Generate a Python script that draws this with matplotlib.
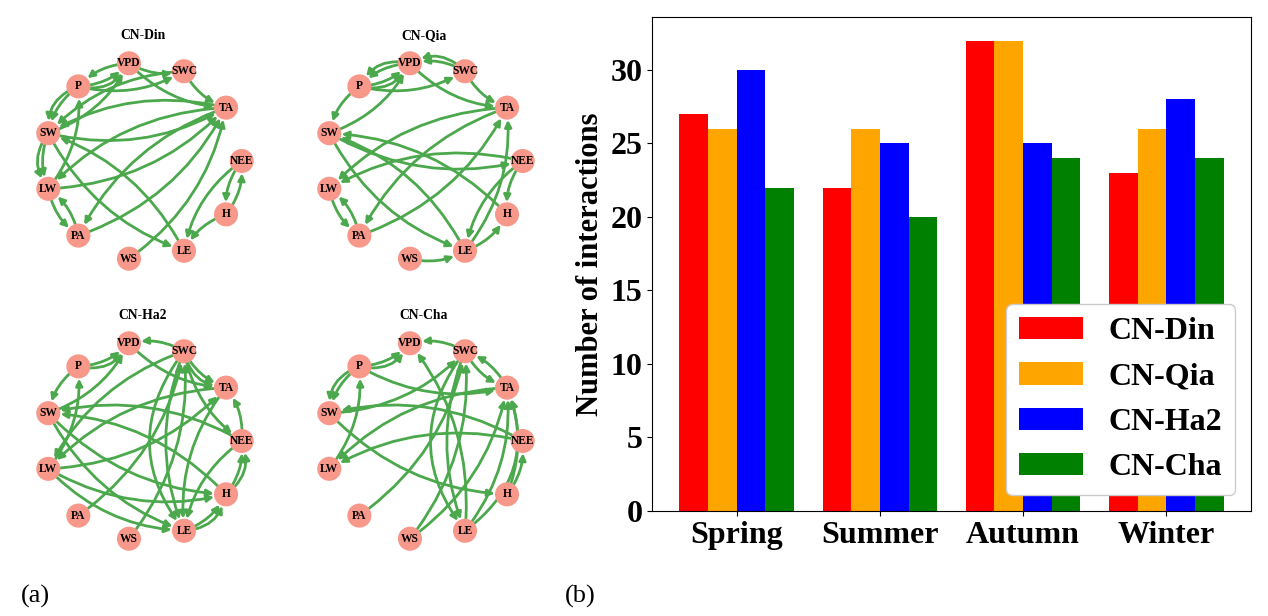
import numpy as np
import matplotlib.pyplot as plt
from matplotlib.patches import FancyArrowPatch, Circle

plt.rcParams['font.family'] = ['Liberation Serif', 'DejaVu Serif']

# bar chart data
seasons = ['Spring', 'Summer', 'Autumn', 'Winter']
sites = ['CN-Din', 'CN-Qia', 'CN-Ha2', 'CN-Cha']
n_din = [27, 22, 32, 23]
n_qia = [26, 26, 32, 26]
n_ha2 = [30, 25, 25, 28]
n_cha = [22, 20, 24, 24]
bar_colors = ['red', 'orange', 'blue', 'green']

# network data (circular layout order)
nodes = ['NEE', 'TA', 'SWC', 'VPD', 'P', 'SW', 'LW', 'PA', 'WS', 'LE', 'H']

edges_din = [('VPD', 'P'), ('P', 'VPD'), ('P', 'VPD'), ('VPD', 'SWC'), ('P', 'SWC'),
             ('VPD', 'TA'), ('SWC', 'TA'), ('SWC', 'SW'), ('TA', 'SW'), ('SW', 'TA'),
             ('P', 'SW'), ('P', 'SW'), ('SW', 'LW'), ('SW', 'LW'), ('SW', 'VPD'),
             ('LW', 'P'), ('TA', 'LW'), ('LW', 'TA'), ('TA', 'PA'), ('PA', 'TA'),
             ('LW', 'PA'), ('PA', 'LW'), ('WS', 'TA'), ('SW', 'LE'), ('LE', 'SW'),
             ('NEE', 'H'), ('H', 'NEE'), ('NEE', 'LE'), ('H', 'LE')]
edges_qia = [('VPD', 'P'), ('VPD', 'P'), ('P', 'VPD'), ('P', 'VPD'), ('SWC', 'VPD'),
             ('SWC', 'VPD'), ('P', 'SWC'), ('VPD', 'TA'), ('SWC', 'TA'), ('P', 'SW'),
             ('SW', 'VPD'), ('TA', 'LW'), ('TA', 'PA'), ('PA', 'TA'), ('NEE', 'LW'),
             ('SW', 'NEE'), ('SW', 'LE'), ('LE', 'SW'), ('H', 'SW'), ('LW', 'PA'),
             ('PA', 'LW'), ('WS', 'LE'), ('LE', 'H'), ('NEE', 'H'), ('NEE', 'LE'),
             ('LE', 'TA')]
edges_ha2 = [('SWC', 'VPD'), ('P', 'VPD'), ('P', 'VPD'), ('VPD', 'TA'), ('P', 'SW'),
             ('SW', 'VPD'), ('LW', 'P'), ('SWC', 'TA'), ('SWC', 'TA'), ('SWC', 'NEE'),
             ('SWC', 'LW'), ('TA', 'LW'), ('PA', 'SWC'), ('WS', 'SWC'), ('SWC', 'LE'),
             ('SWC', 'LE'), ('LW', 'TA'), ('LW', 'H'), ('H', 'SW'), ('NEE', 'SW'),
             ('SW', 'LE'), ('SW', 'H'), ('H', 'NEE'), ('H', 'NEE'), ('NEE', 'TA'),
             ('LE', 'H'), ('LE', 'H'), ('NEE', 'LE'), ('TA', 'LE'), ('LW', 'LE')]
edges_cha = [('SWC', 'VPD'), ('P', 'VPD'), ('P', 'VPD'), ('P', 'SW'), ('P', 'SW'),
             ('SW', 'SWC'), ('P', 'TA'), ('TA', 'SWC'), ('SWC', 'TA'), ('LW', 'P'),
             ('TA', 'LW'), ('NEE', 'LW'), ('SW', 'H'), ('NEE', 'SW'), ('LE', 'VPD'),
             ('SWC', 'LE'), ('SWC', 'LE'), ('PA', 'SWC'), ('WS', 'SWC'), ('WS', 'TA'),
             ('LE', 'TA'), ('LE', 'TA'), ('H', 'TA'), ('H', 'NEE')]
net_edges = [edges_din, edges_qia, edges_ha2, edges_cha]

W, H = 1268, 616
fig = plt.figure(figsize=(W / 100, H / 100), dpi=100)

# node positions on a unit circle
ang = 2 * np.pi * np.arange(len(nodes)) / len(nodes)
pos = {n: (np.cos(a), np.sin(a)) for n, a in zip(nodes, ang)}

node_col = '#f8988a'
edge_col = '#4ca84c'
centers = [(143, 161), (424, 161), (143, 441), (424, 441)]
r_px = 98.7
half = 1.25

for (cx, cy), name, edges in zip(centers, sites, net_edges):
    size = 2 * half * r_px
    ax = fig.add_axes([(cx - size / 2) / W, (H - cy - size / 2) / H, size / W, size / H])
    ax.set_xlim(-half, half)
    ax.set_ylim(-half, half)
    ax.set_aspect('equal')
    ax.axis('off')
    seen = {}
    for s, t in edges:
        k = seen.get((s, t), 0)
        seen[(s, t)] = k + 1
        rad = 0.2 + 0.18 * k
        arr = FancyArrowPatch(pos[s], pos[t], connectionstyle=f'arc3,rad={rad}',
                              arrowstyle='-|>', mutation_scale=10, lw=2.0,
                              color=edge_col, shrinkA=8.8, shrinkB=8.8, zorder=1)
        ax.add_patch(arr)
    for n in nodes:
        ax.add_patch(Circle(pos[n], 0.122, color=node_col, zorder=2, lw=0))
        ax.text(pos[n][0], pos[n][1], n, ha='center', va='center', fontsize=8.3,
                fontweight='bold', zorder=3)
    ax.text(0, 1.275, name, ha='center', va='center', fontsize=9.8,
            fontweight='bold', clip_on=False)

# bar chart
axb = fig.add_axes([652 / W, 105 / H, 599 / W, 494 / H])
x = np.arange(len(seasons))
width = 0.2
for i, (vals, lab, col) in enumerate(zip([n_din, n_qia, n_ha2, n_cha], sites, bar_colors)):
    axb.bar(x + (i - 1.5) * width, vals, width, color=col, label=lab)
axb.set_xticks(x)
axb.set_xticklabels(seasons, fontsize=23, fontweight='bold')
axb.set_yticks(np.arange(0, 31, 5))
axb.tick_params(axis='y', labelsize=23)
for lbl in axb.get_yticklabels():
    lbl.set_fontweight('bold')
axb.set_ylabel('Number of interactions', fontsize=22, fontweight='bold')
leg = axb.legend(loc='lower right', fontsize=23, framealpha=1)
for t in leg.get_texts():
    t.set_fontweight('bold')

fig.text(35 / W, 1 - 596 / H, '(a)', ha='center', va='center', fontsize=19)
fig.text(580 / W, 1 - 596 / H, '(b)', ha='center', va='center', fontsize=19)

fig.savefig('out.png', dpi=100)
